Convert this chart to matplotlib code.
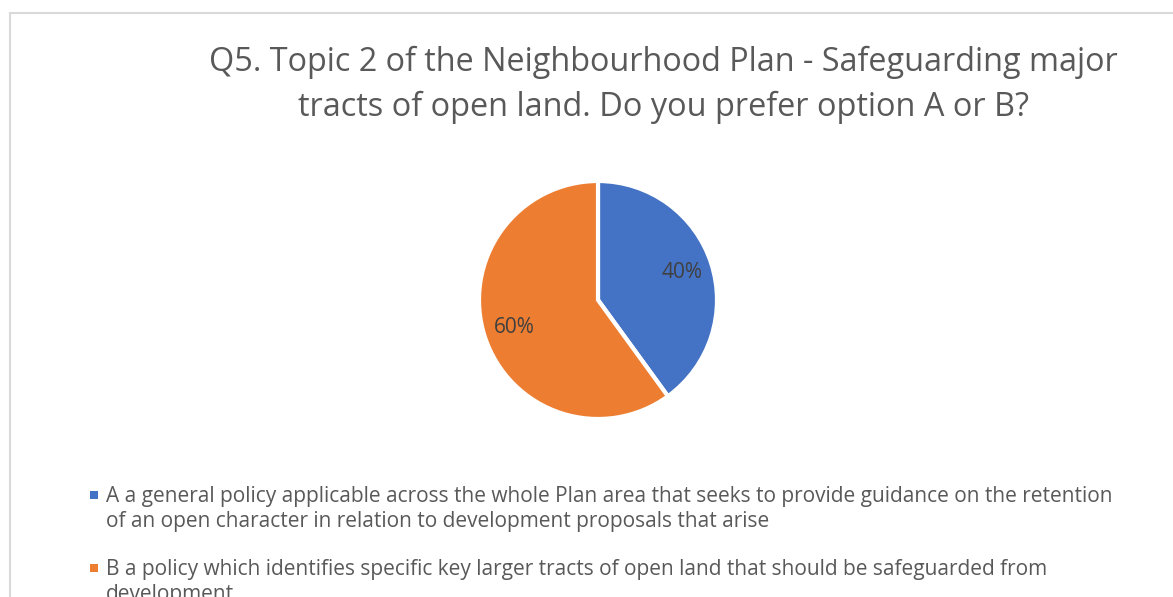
import matplotlib
matplotlib.use("Agg")
import matplotlib.pyplot as plt
from matplotlib.patches import Rectangle

# ---- data ----
categories = ["A", "B"]
values = [40, 60]
legend_labels = [
    ["A a general policy applicable across the whole Plan area that seeks to provide guidance on the retention",
     "of an open character in relation to development proposals that arise"],
    ["B a policy which identifies specific key larger tracts of open land that should be safeguarded from",
     "development"],
]
title_lines = ["Q5. Topic 2 of the Neighbourhood Plan - Safeguarding major",
               "tracts of open land. Do you prefer option A or B?"]
colors = ["#4472C4", "#ED7D31"]

W, H = 1173, 597
FONT = "Open Sans"
fig = plt.figure(figsize=(W / 100, H / 100), dpi=100)
fig.patch.set_facecolor("white")

def px(x, y):
    return x / W, 1 - y / H

# chart border (extends beyond right and bottom edge)
fig.patches.append(Rectangle(px(10, 13 + 700), 1200 / W, 700 / H, transform=fig.transFigure,
                             fill=False, edgecolor="#D9D9D9", linewidth=1.5))

renderer = fig.canvas.get_renderer()

def fit_text(x, y, s, target_w, color, ha="left", base=20):
    t = fig.text(*px(x, y), s, fontsize=base, family=FONT, color=color, ha=ha, va="baseline")
    w = t.get_window_extent(renderer).width
    t.set_fontsize(base * target_w / w)
    return t

# title
fit_text(663, 71, title_lines[0], 910, "#595959", ha="center", base=24)
fit_text(663, 116, title_lines[1], 734, "#595959", ha="center", base=24)

# pie
cx, cy, r = 598, 300, 119
ax = fig.add_axes([(cx - r) / W, 1 - (cy + r) / H, 2 * r / W, 2 * r / H])
wedges, texts, autotexts = ax.pie(values, colors=colors, startangle=90, counterclock=False,
                                  autopct="%1.0f%%", pctdistance=0.74,
                                  wedgeprops=dict(edgecolor="white", linewidth=3),
                                  textprops=dict(color="#404040", fontsize=15, family=FONT))
ax.set_xlim(-1.0, 1.0)
ax.set_ylim(-1.0, 1.0)
ax.set_aspect("equal")
ax.axis("off")

# legend
sq = 8
ly = [(502, 527), (575, 600)]
lsize = None
for i, (lines, col) in enumerate(zip(legend_labels, colors)):
    y1, y2 = ly[i]
    fig.patches.append(Rectangle(px(90, y1 - 3), sq / W, sq / H, transform=fig.transFigure,
                                 facecolor=col, edgecolor="none"))
    if lsize is None:
        t = fit_text(106, y1, lines[0], 1012, "#595959", base=14)
        lsize = t.get_fontsize()
    else:
        fig.text(*px(106, y1), lines[0], fontsize=lsize, family=FONT, color="#595959", va="baseline")
    fig.text(*px(106, y2), lines[1], fontsize=lsize, family=FONT, color="#595959", va="baseline")

fig.savefig("out.png", dpi=100, facecolor="white")
